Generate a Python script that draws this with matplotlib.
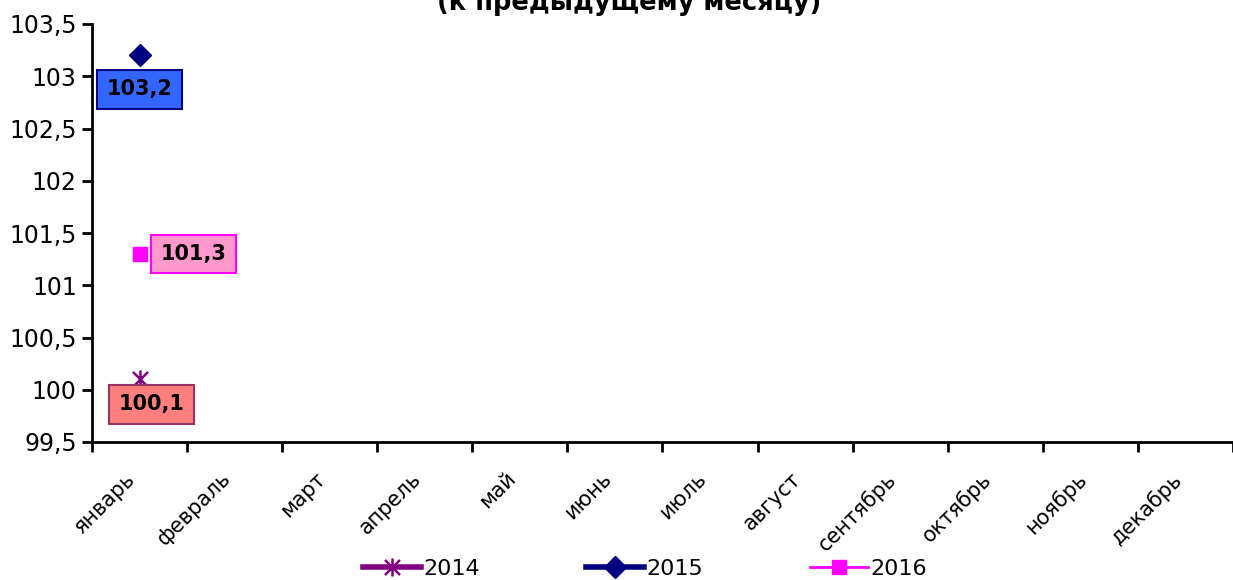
import matplotlib.pyplot as plt
from matplotlib.path import Path
from matplotlib.ticker import FixedLocator, FuncFormatter

months = ["январь", "февраль", "март", "апрель", "май", "июнь",
          "июль", "август", "сентябрь", "октябрь", "ноябрь", "декабрь"]
v2014 = [100.1]
v2015 = [103.2]
v2016 = [101.3]

plt.rcParams['font.family'] = ['DejaVu Sans']

fig = plt.figure(figsize=(12.33, 5.8), dpi=100)
ax = fig.add_axes([92 / 1233, 1 - 442 / 580, (1233 - 92) / 1233, (442 - 24) / 580])

# excel-like star: an x crossed by a vertical stroke
star = Path([(-1, -1), (1, 1), (-1, 1), (1, -1), (0, -1.2), (0, 1.2)],
            [Path.MOVETO, Path.LINETO] * 3)

x = list(range(len(v2014)))
ax.plot(x, v2014, color='#800080', marker=star, markersize=13, mew=1.8, lw=4, label='2014')
ax.plot(x, v2015, color='#000080', marker='D', markersize=11, lw=4, label='2015')
ax.plot(x, v2016, color='#FF00FF', marker='s', markersize=10.5, lw=2, label='2016')

# data labels
lab = dict(textcoords='offset points', ha='center', va='center',
           fontsize=15, fontweight='bold')
ax.annotate("100,1", (0, v2014[0]), xytext=(8.6, -18), zorder=5,
            bbox=dict(boxstyle='square,pad=0.45', fc='#FF7F7F', ec='#993366', lw=1.5), **lab)
ax.annotate("103,2", (0, v2015[0]), xytext=(0, -24.5), zorder=5,
            bbox=dict(boxstyle='square,pad=0.45', fc='#3366FF', ec='#000080', lw=1.5), **lab)
ax.annotate("101,3", (0, v2016[0]), xytext=(39, 0), zorder=5,
            bbox=dict(boxstyle='square,pad=0.45', fc='#FF99CC', ec='#FF00FF', lw=1.5), **lab)

ax.set_xlim(-0.5, len(months) - 0.5)
ax.set_ylim(99.5, 103.5)
ax.set_yticks([99.5 + 0.5 * i for i in range(9)])
ax.yaxis.set_major_formatter(FuncFormatter(lambda v, p: f"{v:g}".replace('.', ',')))
# major ticks are invisible, only carry the labels (nudged a bit left, like excel)
ax.set_xticks([i - 0.15 for i in range(len(months))])
ax.set_xticklabels(months, rotation=45, ha='right', rotation_mode='anchor', fontsize=15)
ax.xaxis.set_minor_locator(FixedLocator([i - 0.5 for i in range(len(months) + 1)]))
ax.tick_params(axis='x', which='major', length=0, pad=19)
ax.tick_params(axis='x', which='minor', length=7, width=2)
ax.tick_params(axis='y', length=7, width=2, labelsize=17, pad=4)
for s in ['top', 'right']:
    ax.spines[s].set_visible(False)
for s in ['left', 'bottom']:
    ax.spines[s].set_linewidth(2)

fig.text(629 / 1233, 1 - 10 / 580, "(к предыдущему месяцу)", ha='center', va='baseline',
         fontsize=18.5, fontweight='bold')

leg = fig.legend(loc='lower center', bbox_to_anchor=(0.523, -0.03), ncol=3,
                 frameon=True, fontsize=16, handlelength=2.6, columnspacing=4.8,
                 handletextpad=0.1, borderpad=0.35, fancybox=False)
leg.get_frame().set_edgecolor('white')
leg.get_frame().set_facecolor('white')
leg.get_frame().set_alpha(1)

fig.savefig("out.png", dpi=100)
